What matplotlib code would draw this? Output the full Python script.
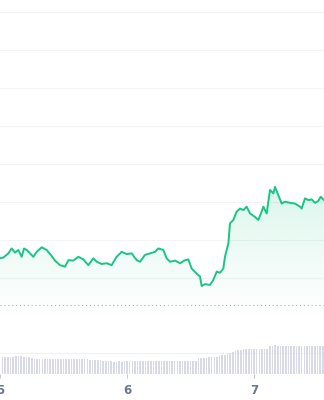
import numpy as np
import matplotlib
matplotlib.use("Agg")
import matplotlib.pyplot as plt
from matplotlib.patches import Polygon

# hours since day 5 00:00, price
hours = [0.62, 1.24, 2.18, 2.80, 3.42, 4.05, 4.67, 5.11, 5.60, 6.23, 6.85, 7.48,
         8.41, 9.35, 10.28, 10.91, 11.84, 12.78, 13.40, 14.33, 15.27, 16.21, 17.14,
         18.08, 18.70, 19.63, 20.57, 21.50, 22.44, 23.38, 24.31, 25.25, 26.18, 26.81,
         27.74, 28.68, 29.61, 30.23, 31.17, 31.79, 32.42, 33.35, 34.29, 35.22, 35.85,
         36.47, 37.40, 38.03, 38.34, 38.96, 39.90, 40.52, 41.15, 41.77, 42.39, 42.70,
         43.33, 43.64, 44.26, 44.89, 45.51, 46.13, 46.76, 47.38, 48.32, 48.94, 49.56,
         49.88, 50.50, 51.12, 51.75, 52.06, 52.68, 53.31, 53.93, 54.86, 55.80, 56.73,
         57.05, 57.67, 58.29, 58.92, 59.54, 60.16, 60.60, 61.22]
price = [10.52, 10.54, 10.65, 10.78, 10.67, 10.74, 10.56, 10.78, 10.74, 10.65, 10.56, 10.69,
         10.81, 10.74, 10.58, 10.46, 10.34, 10.30, 10.47, 10.46, 10.56, 10.49, 10.34,
         10.52, 10.43, 10.37, 10.39, 10.34, 10.56, 10.69, 10.63, 10.65, 10.47, 10.43,
         10.61, 10.65, 10.69, 10.78, 10.74, 10.52, 10.43, 10.46, 10.39, 10.47, 10.49,
         10.25, 10.12, 10.04, 9.79, 9.84, 9.82, 9.95, 10.17, 10.14, 10.25, 10.56,
         10.91, 11.44, 11.53, 11.75, 11.83, 11.79, 11.88, 11.70, 11.61, 11.53, 11.75,
         11.88, 11.70, 12.32, 12.23, 12.40, 12.18, 11.96, 12.01, 11.98, 11.96, 11.88,
         11.83, 12.10, 12.05, 12.07, 11.98, 12.03, 12.14, 12.05]

ref_price = 9.29
grid_levels = [10, 11, 12, 13, 14, 15, 16, 17]

# half-hourly volume bars
vol_hours = [0.5 * (i + 1) for i in range(122)]
volume = [17.0, 17.2, 17.5, 17.3, 17.6, 18.0, 18.2, 18.0, 17.8, 17.5, 17.0, 16.5,
          15.8, 15.5, 15.6, 15.3, 15.2, 15.4, 15.0, 15.1, 15.3, 15.0, 15.2, 15.5,
          15.6, 15.8, 15.4, 15.2, 15.5, 15.3, 15.1, 15.0, 15.2, 14.8, 14.6, 14.5,
          14.2, 14.0, 13.6, 13.5, 13.2, 13.0, 12.8, 12.9, 13.0, 12.8, 13.0, 13.2,
          13.4, 13.5, 13.6, 13.4, 13.5, 13.3, 13.6, 13.5, 13.4, 13.6, 13.5, 13.4,
          13.5, 13.6, 13.5, 13.4, 13.6, 13.5, 13.5, 13.6, 13.4, 13.5, 13.6, 13.5,
          13.6, 13.5, 16.4, 16.8, 16.6, 16.9, 17.0, 17.2, 17.4, 17.8, 18.5, 19.0,
          19.5, 20.5, 21.8, 22.6, 23.0, 24.5, 24.8, 25.0, 25.2, 25.0, 25.1, 25.2,
          25.0, 25.3, 25.2, 25.5, 25.4, 28.6, 28.8, 29.0, 28.9, 28.7, 28.8, 28.6,
          28.5, 28.7, 28.6, 28.8, 28.5, 28.6, 28.7, 28.5, 28.6, 28.8, 28.7, 28.6,
          28.5, 28.7]

day_ticks = [0, 24, 48]
day_labels = ["5", "6", "7"]

green = "#16c784"
xmin, xmax = 0.617, 61.22

fig = plt.figure(figsize=(3.24, 4.0), dpi=100)
ax = fig.add_axes([0, 0, 1, 1])
ax.set_xlim(xmin, xmax)
ax.set_ylim(6.79, 17.32)
ax.axis("off")

for g in grid_levels:
    ax.axhline(g, color="#f2f3f5", lw=0.8, zorder=0)
ax.axhline(8.03, color="#f0f1f4", lw=0.8, zorder=0)
ax.axhline(ref_price, color="#a9b1c2", lw=0.8, ls=(0, (1, 2.5)), zorder=1)

# gradient fill under the line
base = 8.9
grad = np.linspace(1, 0, 256).reshape(-1, 1)
rgba = np.zeros((256, 1, 4))
rgba[..., :3] = matplotlib.colors.to_rgb(green)
rgba[..., 3] = 0.16 * grad[:, 0:1] ** 1.2
top = max(price)
im = ax.imshow(rgba, extent=[xmin, xmax, base, top], aspect="auto",
               origin="upper", zorder=1, interpolation="bilinear")
poly = Polygon([(hours[0], base)] + list(zip(hours, price)) + [(hours[-1], base)],
               closed=True, transform=ax.transData, facecolor="none", edgecolor="none")
ax.add_patch(poly)
im.set_clip_path(poly)

ax.plot(hours, price, color=green, lw=1.4, zorder=3, solid_joinstyle="round")

# volume
vax = fig.add_axes([0, 0.064, 1, 0.085])
vax.patch.set_alpha(0)
vax.bar(vol_hours, volume, width=0.3, color="#d8dbe7", linewidth=0)
vax.set_xlim(xmin, xmax)
vax.set_ylim(0, 34)
for s in vax.spines.values():
    s.set_visible(False)
vax.set_yticks([])
vax.set_xticks(day_ticks)
vax.set_xticklabels(day_labels)
vax.tick_params(axis="x", length=3, width=0.8, color="#c3c8d2", pad=4,
                labelsize=8.5, labelcolor="#6b778c")
for t in vax.get_xticklabels():
    t.set_fontweight("bold")

fig.savefig("out.png", dpi=100)
